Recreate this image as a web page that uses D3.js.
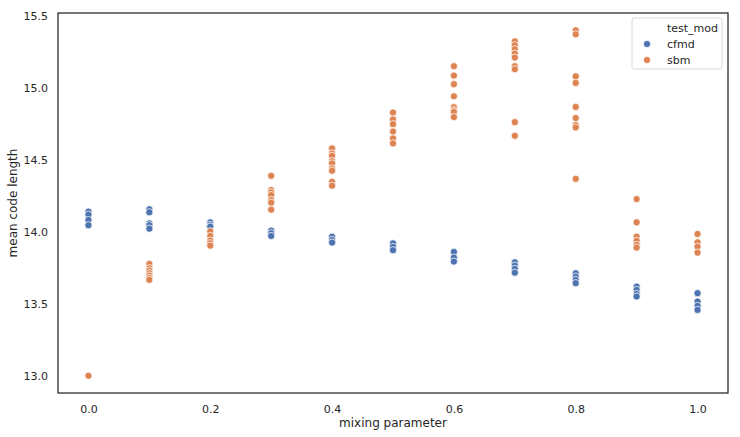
<!DOCTYPE html>
<html>
<head>
<meta charset="utf-8">
<script src="https://cdn.jsdelivr.net/npm/d3@7"></script>
<style>
  body { margin: 0; background: #fff; }
  svg { font-family: "DejaVu Sans", sans-serif; }
</style>
</head>
<body>
<div id="chart"></div>
<script>
const mixing = [0.0, 0.1, 0.2, 0.3, 0.4, 0.5, 0.6, 0.7, 0.8, 0.9, 1.0];

const cfmdValues = [
  [14.141, 14.120, 14.083, 14.047],
  [14.158, 14.137, 14.060, 14.047, 14.023],
  [14.067, 14.049, 14.037],
  [14.009, 13.991, 13.972],
  [13.967, 13.944, 13.926],
  [13.921, 13.896, 13.873],
  [13.861, 13.822, 13.794],
  [13.789, 13.766, 13.743, 13.717],
  [13.713, 13.690, 13.667, 13.644],
  [13.620, 13.597, 13.569, 13.551],
  [13.574, 13.516, 13.486, 13.458]
];

const sbmValues = [
  [13.0],
  [13.778, 13.748, 13.731, 13.713, 13.697, 13.681, 13.667],
  [14.005, 13.972, 13.940, 13.922, 13.905],
  [14.391, 14.292, 14.276, 14.257, 14.222, 14.204, 14.155],
  [14.581, 14.547, 14.530, 14.493, 14.477, 14.442, 14.426, 14.349, 14.322],
  [14.831, 14.783, 14.750, 14.699, 14.651, 14.616],
  [15.153, 15.088, 15.028, 14.944, 14.868, 14.847, 14.835, 14.799],
  [15.326, 15.299, 15.271, 15.241, 15.213, 15.153, 15.132, 14.764, 14.669],
  [15.403, 15.375, 15.083, 15.037, 14.870, 14.792, 14.743, 14.727, 14.370],
  [14.229, 14.067, 13.967, 13.938, 13.910, 13.891],
  [13.986, 13.928, 13.898, 13.856]
];

const xTicks = [0.0, 0.2, 0.4, 0.6, 0.8, 1.0];
const yTicks = [13.0, 13.5, 14.0, 14.5, 15.0, 15.5];

const seriesNames = ["cfmd", "sbm"];
const seriesColors = ["#4c72b0", "#dd8452"];

const width = 740;
const height = 437;
const margin = {top: 13, right: 12, bottom: 44, left: 58};

const svg = d3.select("#chart").append("svg")
  .attr("width", width)
  .attr("height", height);

// flatten into rows for drawing
const rows = [];
[cfmdValues, sbmValues].forEach((series, s) => {
  series.forEach((vals, i) => {
    vals.forEach(v => rows.push({x: mixing[i], y: v, s: s}));
  });
});

const x = d3.scaleLinear()
  .domain([-0.05, 1.05])
  .range([margin.left, width - margin.right]);

const yMin = d3.min(rows, d => d.y);
const yMax = d3.max(rows, d => d.y);
const pad = (yMax - yMin) * 0.05;
const y = d3.scaleLinear()
  .domain([yMin - pad, yMax + pad])
  .range([height - margin.bottom, margin.top]);

const xAxis = svg.append("g")
  .attr("transform", `translate(0,${height - margin.bottom})`)
  .call(d3.axisBottom(x).tickValues(xTicks).tickFormat(d3.format(".1f")).tickSize(0).tickPadding(12));

const yAxis = svg.append("g")
  .attr("transform", `translate(${margin.left},0)`)
  .call(d3.axisLeft(y).tickValues(yTicks).tickFormat(d3.format(".1f")).tickSize(0).tickPadding(10));

[xAxis, yAxis].forEach(g => {
  g.select(".domain").remove();
  g.selectAll("text")
    .attr("fill", "#262626")
    .style("font-size", "11px")
    .style("font-family", "DejaVu Sans");
});

// points
svg.append("g")
  .selectAll("circle")
  .data(rows)
  .join("circle")
  .attr("cx", d => x(d.x))
  .attr("cy", d => y(d.y))
  .attr("r", 3.6)
  .attr("fill", d => seriesColors[d.s])
  .attr("stroke", "#fff")
  .attr("stroke-width", 0.75);

// frame
svg.append("rect")
  .attr("x", margin.left)
  .attr("y", margin.top)
  .attr("width", width - margin.left - margin.right)
  .attr("height", height - margin.top - margin.bottom)
  .attr("fill", "none")
  .attr("stroke", "#262626")
  .attr("stroke-width", 1.25);

// axis labels
svg.append("text")
  .attr("x", (margin.left + width - margin.right) / 2)
  .attr("y", 427)
  .attr("text-anchor", "middle")
  .attr("fill", "#262626")
  .style("font-size", "12px")
  .text("mixing parameter");

svg.append("text")
  .attr("transform", `translate(17,${(margin.top + height - margin.bottom) / 2}) rotate(-90)`)
  .attr("text-anchor", "middle")
  .attr("fill", "#262626")
  .style("font-size", "12px")
  .text("mean code length");

// legend
const legend = svg.append("g").attr("transform", "translate(632,18)");
legend.append("rect")
  .attr("width", 90)
  .attr("height", 51)
  .attr("rx", 2)
  .attr("fill", "#fff")
  .attr("fill-opacity", 0.8)
  .attr("stroke", "#d0d0d0")
  .attr("stroke-width", 0.8);

legend.append("text")
  .attr("x", 35)
  .attr("y", 14)
  .attr("fill", "#262626")
  .style("font-size", "11px")
  .text("test_mod");

seriesNames.forEach((name, i) => {
  legend.append("circle")
    .attr("cx", 15)
    .attr("cy", 26 + i * 16)
    .attr("r", 3.6)
    .attr("fill", seriesColors[i])
    .attr("stroke", "#fff")
    .attr("stroke-width", 0.75);
  legend.append("text")
    .attr("x", 35)
    .attr("y", 30 + i * 16)
    .attr("fill", "#262626")
    .style("font-size", "11px")
    .text(name);
});
</script>
</body>
</html>
